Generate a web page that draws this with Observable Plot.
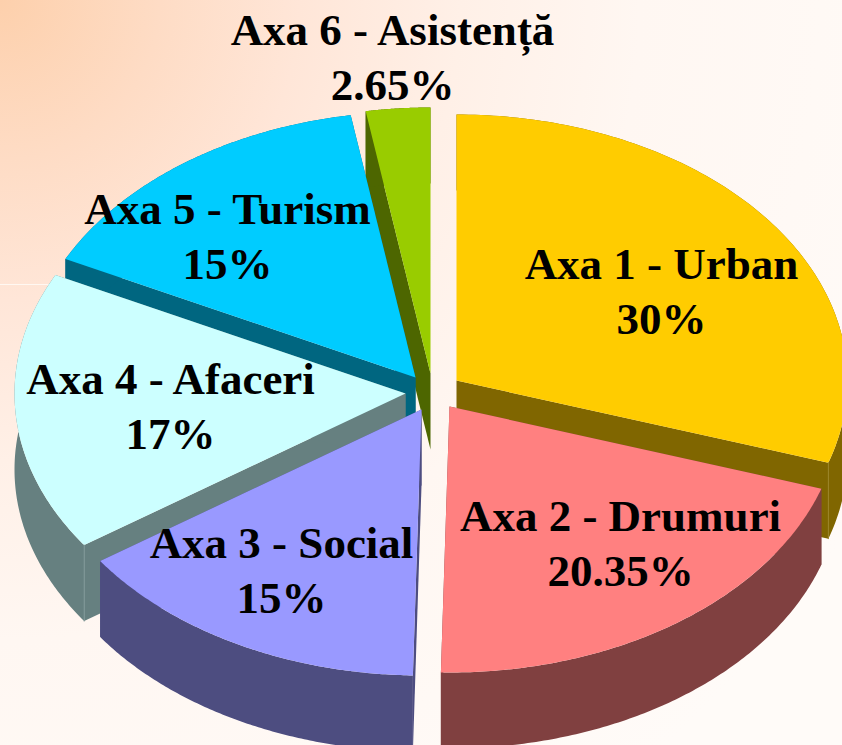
<!DOCTYPE html>
<html>
<head>
<meta charset="utf-8">
<script src="https://cdn.jsdelivr.net/npm/d3@7"></script>
<script src="https://cdn.jsdelivr.net/npm/@observablehq/plot@0.6"></script>
<style>
html,body{margin:0;padding:0;width:842px;height:745px;overflow:hidden;
background:radial-gradient(circle 1000px at 0 0,#fdd0ac 0,#fedcc5 160px,#ffe6d8 300px,#fff0e7 460px,#fff7f2 640px,#fffbf8 1000px);}
svg{display:block;background:transparent !important;}
</style>
</head>
<body>
<div id="chart"></div>
<script>
const names = ["Axa 1 - Urban","Axa 2 - Drumuri","Axa 3 - Social","Axa 4 - Afaceri","Axa 5 - Turism","Axa 6 - Asistență"];
const shares = [30,20.35,15,17,15,2.65];
const shareLabels = ["30%","20.35%","15%","17%","15%","2.65%"];
const topColors = ["#ffcc00","#ff8080","#9999ff","#ccffff","#00ccff","#99cc00"];
const wallColors = ["#806600","#804040","#4d4d80","#668080","#006680","#4d6600"];
const edgeColors = ["#9a8426",null,null,"#7f9797",null,null];

// Layout of the exploded 3D pie (not data)
const W = 842, H = 745, RX = 391, RY = 266, DEPTH = 76;
const apexes = [[456,380],[449,406],[421,409],[405,393],[415,377],[430,373]];
const labelAt = [[661,288],[620,540],[281,567],[170,403],[227,233],[392,54]];
const drawOrder = [5,4,3,0,1,2];

const faces = [];
const edges = [];
let acc = 0;
const spans = shares.map(v => { const a0 = acc; acc += v; return [a0/100*2*Math.PI, acc/100*2*Math.PI]; });
function addFace(id, color, pts){ pts.forEach(([x,y]) => faces.push({id, color, x, y})); }
for (const i of drawOrder) {
  const [cx,cy] = apexes[i], [t0,t1] = spans[i];
  const arc = d3.range(0,121).map(k => {
    const t = t0 + (t1-t0)*k/120;
    return [cx + RX*Math.sin(t), cy - RY*Math.cos(t)];
  });
  const down = ([x,y]) => [x, y+DEPTH];
  const a = arc[0], b = arc[arc.length-1], c = [cx,cy];
  addFace(`w${i}a`, wallColors[i], [c,a,down(a),down(c)]);
  addFace(`w${i}b`, wallColors[i], [c,b,down(b),down(c)]);
  addFace(`w${i}o`, wallColors[i], [...arc, ...arc.slice().reverse().map(down)]);
  addFace(`t${i}`, topColors[i], [c,...arc]);
  if (edgeColors[i]) {
    const corner = i === 0 ? b : a;
    [corner, down(corner)].forEach(([x,y]) => edges.push({id:i, color:edgeColors[i], x, y}));
  }
}
const labels = names.map((n,i) => ({text:`${n}\n${shareLabels[i]}`, x:labelAt[i][0], y:labelAt[i][1]}));

const plot = Plot.plot({
  width: W, height: H,
  marginTop:0, marginRight:0, marginBottom:0, marginLeft:0,
  x:{domain:[0,W],range:[0,W],axis:null},
  y:{domain:[0,H],range:[0,H],axis:null},
  color:{type:"identity"},
  style:{background:"transparent"},
  marks:[
    Plot.ruleY([284],{x1:0,x2:52,stroke:"#fff8f2",strokeWidth:1}),
    Plot.line(faces,{x:"x",y:"y",z:"id",fill:"color",stroke:"none",curve:"linear"}),
    Plot.line(edges,{x:"x",y:"y",z:"id",stroke:"color",strokeWidth:1}),
    Plot.text(labels,{x:"x",y:"y",text:"text",fill:"#000",fontSize:45,fontWeight:"bold",
      fontFamily:"'Liberation Serif',serif",textAnchor:"middle",lineHeight:1.22})
  ]
});
document.getElementById("chart").append(plot);
</script>
</body>
</html>
